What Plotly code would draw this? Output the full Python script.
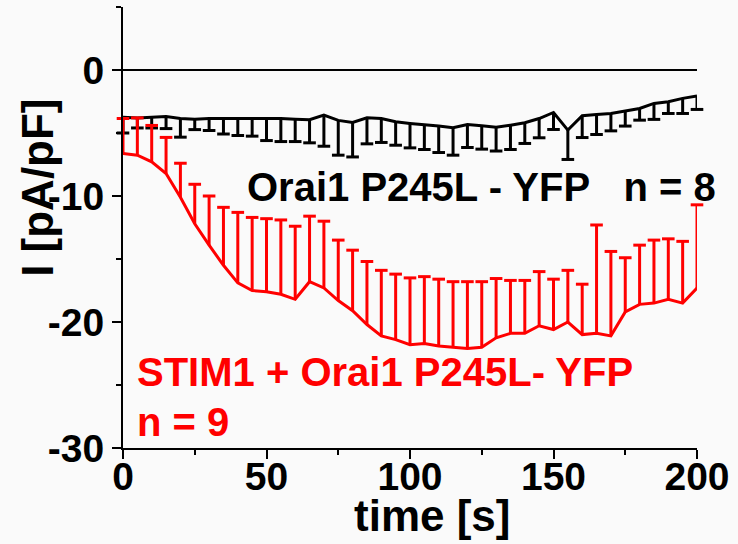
import plotly.graph_objects as go

# ---- data ----
time_s = list(range(0, 201, 5))

black_mean = [-3.75, -3.8, -3.75, -3.7, -3.85, -3.9, -3.85, -3.85, -3.8, -3.8,
              -3.85, -3.85, -3.9, -3.95, -3.58, -4.0, -4.16, -3.79, -3.85, -4.11,
              -4.24, -4.32, -4.45, -4.59, -4.32, -4.43, -4.55, -4.38, -4.19, -3.85,
              -3.37, -4.77, -3.63, -3.53, -3.45, -3.26, -3.05, -2.65, -2.52, -2.25,
              -2.07]
black_lower = [-5.0, -4.6, -4.6, -4.65, -5.33, -4.73, -4.8, -5.08, -5.2, -5.25,
               -5.6, -5.68, -5.68, -5.78, -6.05, -6.76, -6.9, -5.86, -5.75, -5.97,
               -6.18, -6.31, -6.55, -6.76, -6.15, -6.28, -6.43, -6.31, -5.83, -5.38,
               -4.72, -7.1, -5.36, -5.12, -4.83, -4.45, -3.98, -3.92, -3.45, -3.45,
               -3.13]

red_mean = [-6.63, -6.76, -7.29, -8.22, -10.1, -12.2, -13.9, -15.5, -16.9, -17.5,
            -17.6, -17.8, -18.2, -16.8, -17.3, -18.3, -19.1, -20.2, -21.1, -21.4,
            -21.8, -21.7, -21.9, -22.0, -22.1, -22.0, -21.25, -20.9, -20.9, -20.3,
            -20.6, -20.0, -21.0, -20.9, -21.1, -19.2, -18.6, -18.5, -18.2, -18.5,
            -17.3]
red_upper = [-3.85, -3.8, -4.4, -5.35, -7.4, -9.07, -10.0, -10.9, -11.3, -11.7,
             -11.8, -11.9, -12.4, -11.6, -12.0, -13.5, -14.3, -15.2, -15.9, -16.2,
             -16.5, -16.4, -16.6, -16.8, -16.8, -16.8, -16.55, -16.7, -16.7, -16.0,
             -16.6, -15.9, -17.0, -12.3, -14.4, -14.9, -13.9, -13.5, -13.4, -13.6,
             -10.7]

x_ticks = [0, 50, 100, 150, 200]
y_ticks = [-30, -20, -10, 0]

black_minus = [m - lo for m, lo in zip(black_mean, black_lower)]
red_plus = [up - m for m, up in zip(red_mean, red_upper)]
zeros = [0] * len(time_s)

FONT = "Liberation Sans, Arial, sans-serif"
BG = "#fafafa"
RED = "#ff0000"

fig = go.Figure()


def add_series(mean, plus, minus, cap_y, color):
    # line with error stems (no caps)
    fig.add_trace(go.Scatter(
        x=time_s, y=mean, mode="lines",
        line=dict(color=color, width=3),
        error_y=dict(type="data", symmetric=False, array=plus, arrayminus=minus,
                     color=color, thickness=3, width=0),
        cliponaxis=False, showlegend=False, hoverinfo="skip"))
    # caps at the far end of each error bar
    fig.add_trace(go.Scatter(
        x=time_s, y=cap_y, mode="markers",
        marker=dict(symbol="line-ew", size=9, color=color,
                    line=dict(color=color, width=3)),
        cliponaxis=False, showlegend=False, hoverinfo="skip"))


add_series(black_mean, zeros, black_minus, black_lower, "black")
add_series(red_mean, red_plus, zeros, red_upper, RED)

tickfont = dict(family=FONT, size=39, color="black", weight="bold")

fig.update_xaxes(
    range=[0, 200], tickvals=x_ticks, ticktext=[str(v) for v in x_ticks],
    ticks="outside", ticklen=9, tickwidth=2, tickcolor="black",
    minor=dict(tickvals=[25, 75, 125, 175], ticks="outside", ticklen=5,
               tickwidth=2, tickcolor="black"),
    showline=True, linecolor="black", linewidth=2, mirror=False,
    showgrid=False, zeroline=False, tickfont=tickfont,
    ticklabelstandoff=-16)
fig.update_yaxes(
    range=[-30, 5], tickvals=y_ticks, ticktext=[str(v) for v in y_ticks],
    ticks="outside", ticklen=9, tickwidth=2, tickcolor="black",
    minor=dict(tickvals=[-25, -15, -5, 5], ticks="outside", ticklen=5,
               tickwidth=2, tickcolor="black"),
    showline=True, linecolor="black", linewidth=2, mirror=False,
    showgrid=False, zeroline=True, zerolinecolor="black", zerolinewidth=1.5,
    tickfont=tickfont)

ann_font_b = dict(family=FONT, size=40, color="black", weight="bold")
ann_font_r = dict(family=FONT, size=40, color=RED, weight="bold")
fig.add_annotation(x=42.5, y=-9.3, xref="x", yref="y", xanchor="left", yanchor="middle",
                   text="Orai1 P245L - YFP&nbsp;&nbsp;&nbsp;n = 8", showarrow=False,
                   font=ann_font_b)
fig.add_annotation(x=4.2, y=-24.0, xref="x", yref="y", xanchor="left", yanchor="middle",
                   text="STIM1 + Orai1 P245L- YFP", showarrow=False, font=ann_font_r)
fig.add_annotation(x=4.2, y=-27.9, xref="x", yref="y", xanchor="left", yanchor="middle",
                   text="n = 9", showarrow=False, font=ann_font_r)

fig.add_annotation(x=0.538, y=-0.152, xref="paper", yref="paper", xanchor="center",
                   yanchor="middle", text="time [s]", showarrow=False,
                   font=dict(family=FONT, size=44, color="black", weight="bold"))
fig.add_annotation(x=-0.148, y=0.59, xref="paper", yref="paper", xanchor="center",
                   yanchor="middle", text="I [pA/pF]", textangle=-90, showarrow=False,
                   font=dict(family=FONT, size=44, color="black", weight="bold"))

fig.update_layout(
    width=738, height=544,
    margin=dict(l=123, r=41, t=7, b=96),
    paper_bgcolor=BG, plot_bgcolor=BG,
    showlegend=False)

fig.write_html("out.html")
